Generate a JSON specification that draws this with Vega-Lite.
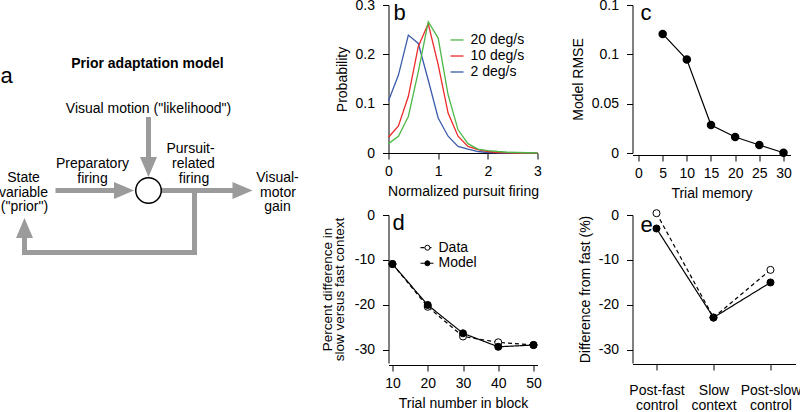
{
  "$schema": "https://vega.github.io/schema/vega-lite/v6.json",
  "background": "white",
  "padding": {"top": -2, "left": -1.5, "right": 0, "bottom": 0},
  "autosize": {"type": "pad"},
  "config": {
    "font": "Liberation Sans",
    "view": {"stroke": null},
    "axis": {"grid": false, "domainColor": "#000", "tickColor": "#000", "labelColor": "#000", "titleColor": "#000", "labelFontSize": 14, "titleFontSize": 14, "titleFontWeight": "normal", "tickSize": 6, "labelFlush": false, "labelOverlap": false, "labelFont": "Liberation Sans", "titleFont": "Liberation Sans"},
    "text": {"font": "Liberation Sans", "color": "#000"}
  },
  "datasets": {
    "diagramLines": [
      {"x": 148, "y": 119.5, "x2": 148, "y2": 158},
      {"x": 57.5, "y": 190.5, "x2": 114, "y2": 190.5},
      {"x": 161, "y": 190.5, "x2": 233, "y2": 190.5},
      {"x": 194, "y": 190.5, "x2": 194, "y2": 252.5},
      {"x": 194, "y": 252.5, "x2": 24, "y2": 252.5},
      {"x": 24, "y": 252.5, "x2": 24, "y2": 237}
    ],
    "diagramHeads": [
      {"x": 148, "y": 167, "dir": "down"},
      {"x": 123.5, "y": 190.5, "dir": "right"},
      {"x": 242, "y": 190.5, "dir": "right"},
      {"x": 24, "y": 228, "dir": "up"}
    ],
    "diagramText": [
      {"x": 148, "y": 113, "label": "Visual motion (\"likelihood\")"},
      {"x": 23, "y": 182, "label": "State"},
      {"x": 23, "y": 196.5, "label": "variable"},
      {"x": 24, "y": 210.5, "label": "(\"prior\")"},
      {"x": 92, "y": 168, "label": "Preparatory"},
      {"x": 92, "y": 183, "label": "firing"},
      {"x": 190, "y": 153, "label": "Pursuit-"},
      {"x": 193, "y": 168, "label": "related"},
      {"x": 193.5, "y": 183, "label": "firing"},
      {"x": 277, "y": 182, "label": "Visual-"},
      {"x": 277.5, "y": 196.5, "label": "motor"},
      {"x": 277, "y": 210.5, "label": "gain"}
    ],
    "dist": [
      {"speed": "2 deg/s", "firing": 0, "prob": 0.106},
      {"speed": "2 deg/s", "firing": 0.2, "prob": 0.158},
      {"speed": "2 deg/s", "firing": 0.4, "prob": 0.239},
      {"speed": "2 deg/s", "firing": 0.6, "prob": 0.222},
      {"speed": "2 deg/s", "firing": 0.8, "prob": 0.148},
      {"speed": "2 deg/s", "firing": 1.0, "prob": 0.071},
      {"speed": "2 deg/s", "firing": 1.2, "prob": 0.034},
      {"speed": "2 deg/s", "firing": 1.4, "prob": 0.0135},
      {"speed": "2 deg/s", "firing": 1.6, "prob": 0.008},
      {"speed": "2 deg/s", "firing": 1.8, "prob": 0.003},
      {"speed": "2 deg/s", "firing": 2.0, "prob": 0.001},
      {"speed": "2 deg/s", "firing": 2.2, "prob": 0.0005},
      {"speed": "2 deg/s", "firing": 2.4, "prob": 0},
      {"speed": "2 deg/s", "firing": 2.6, "prob": 0},
      {"speed": "2 deg/s", "firing": 2.8, "prob": 0},
      {"speed": "2 deg/s", "firing": 3.0, "prob": 0},
      {"speed": "10 deg/s", "firing": 0, "prob": 0.032},
      {"speed": "10 deg/s", "firing": 0.2, "prob": 0.055},
      {"speed": "10 deg/s", "firing": 0.4, "prob": 0.115},
      {"speed": "10 deg/s", "firing": 0.6, "prob": 0.216},
      {"speed": "10 deg/s", "firing": 0.8, "prob": 0.262},
      {"speed": "10 deg/s", "firing": 1.0, "prob": 0.179},
      {"speed": "10 deg/s", "firing": 1.2, "prob": 0.081},
      {"speed": "10 deg/s", "firing": 1.4, "prob": 0.034},
      {"speed": "10 deg/s", "firing": 1.6, "prob": 0.0135},
      {"speed": "10 deg/s", "firing": 1.8, "prob": 0.007},
      {"speed": "10 deg/s", "firing": 2.0, "prob": 0.003},
      {"speed": "10 deg/s", "firing": 2.2, "prob": 0.001},
      {"speed": "10 deg/s", "firing": 2.4, "prob": 0.0005},
      {"speed": "10 deg/s", "firing": 2.6, "prob": 0},
      {"speed": "10 deg/s", "firing": 2.8, "prob": 0},
      {"speed": "10 deg/s", "firing": 3.0, "prob": 0},
      {"speed": "20 deg/s", "firing": 0, "prob": 0.019},
      {"speed": "20 deg/s", "firing": 0.2, "prob": 0.034},
      {"speed": "20 deg/s", "firing": 0.4, "prob": 0.074},
      {"speed": "20 deg/s", "firing": 0.6, "prob": 0.165},
      {"speed": "20 deg/s", "firing": 0.8, "prob": 0.266},
      {"speed": "20 deg/s", "firing": 1.0, "prob": 0.233},
      {"speed": "20 deg/s", "firing": 1.2, "prob": 0.118},
      {"speed": "20 deg/s", "firing": 1.4, "prob": 0.047},
      {"speed": "20 deg/s", "firing": 1.6, "prob": 0.019},
      {"speed": "20 deg/s", "firing": 1.8, "prob": 0.008},
      {"speed": "20 deg/s", "firing": 2.0, "prob": 0.005},
      {"speed": "20 deg/s", "firing": 2.2, "prob": 0.003},
      {"speed": "20 deg/s", "firing": 2.4, "prob": 0.0015},
      {"speed": "20 deg/s", "firing": 2.6, "prob": 0.001},
      {"speed": "20 deg/s", "firing": 2.8, "prob": 0.0005},
      {"speed": "20 deg/s", "firing": 3.0, "prob": 0}
    ],
    "distLegendLines": [
      {"speed": "20 deg/s", "firing": 1.248, "firing2": 1.51, "prob": 0.2291},
      {"speed": "10 deg/s", "firing": 1.248, "firing2": 1.51, "prob": 0.1966},
      {"speed": "2 deg/s", "firing": 1.248, "firing2": 1.51, "prob": 0.1642}
    ],
    "distLegendText": [
      {"speed": "20 deg/s", "firing": 1.651, "prob": 0.2291},
      {"speed": "10 deg/s", "firing": 1.651, "prob": 0.1966},
      {"speed": "2 deg/s", "firing": 1.651, "prob": 0.1642}
    ],
    "rmse": [
      {"memory": 5, "rmse": 0.1207},
      {"memory": 10, "rmse": 0.0947},
      {"memory": 15, "rmse": 0.0283},
      {"memory": 20, "rmse": 0.0162},
      {"memory": 25, "rmse": 0.0081},
      {"memory": 30, "rmse": 0.0003}
    ],
    "block": [
      {"series": "Data", "trial": 10, "diff": -10.9},
      {"series": "Data", "trial": 20, "diff": -20.4},
      {"series": "Data", "trial": 30, "diff": -27.0},
      {"series": "Data", "trial": 40, "diff": -28.3},
      {"series": "Data", "trial": 50, "diff": -28.9},
      {"series": "Model", "trial": 10, "diff": -10.9},
      {"series": "Model", "trial": 20, "diff": -20.0},
      {"series": "Model", "trial": 30, "diff": -26.3},
      {"series": "Model", "trial": 40, "diff": -29.3},
      {"series": "Model", "trial": 50, "diff": -28.9}
    ],
    "blockLegendLines": [
      {"series": "Data", "trial": 17.95, "trial2": 21.64, "diff": -7.27},
      {"series": "Model", "trial": 17.95, "trial2": 21.64, "diff": -10.73}
    ],
    "blockLegendPoints": [
      {"series": "Data", "trial": 19.9, "diff": -7.27},
      {"series": "Model", "trial": 19.9, "diff": -10.73}
    ],
    "blockLegendText": [
      {"series": "Data", "trial": 23.05, "diff": -7.27},
      {"series": "Model", "trial": 23.05, "diff": -10.73}
    ],
    "context": [
      {"series": "Data", "cond": 0, "diff": 0.4},
      {"series": "Data", "cond": 1, "diff": -22.8},
      {"series": "Data", "cond": 2, "diff": -12.2},
      {"series": "Model", "cond": 0, "diff": -3.0},
      {"series": "Model", "cond": 1, "diff": -22.8},
      {"series": "Model", "cond": 2, "diff": -15.0}
    ]
  },
  "columns": 3,
  "spacing": {"row": 62, "column": 95},
  "bounds": "flush",
  "concat": [
    {
      "width": 293,
      "height": 148,
      "encoding": {
        "x": {"field": "x", "type": "quantitative", "scale": {"domain": [0, 293], "nice": false, "zero": false}, "axis": null},
        "y": {"field": "y", "type": "quantitative", "scale": {"domain": [5, 153], "reverse": true, "nice": false, "zero": false}, "axis": null}
      },
      "layer": [
        {
          "data": {"name": "diagramLines"},
          "mark": {"type": "rule", "color": "#9b9b9b", "strokeWidth": 5, "strokeCap": "square"},
          "encoding": {"x2": {"field": "x2"}, "y2": {"field": "y2"}}
        },
        {
          "data": {"name": "diagramHeads"},
          "mark": {"type": "point", "filled": true, "color": "#9b9b9b", "opacity": 1, "size": 400},
          "encoding": {
            "shape": {"field": "dir", "type": "nominal", "scale": {"domain": ["down", "right", "up"], "range": ["M-0.85,-1L0.85,-1L0,1Z", "M-1,-0.85L-1,0.85L1,0Z", "M-0.85,1L0.85,1L0,-1Z"]}, "legend": null}
          }
        },
        {
          "data": {"values": [{"x": 148, "y": 190.5}]},
          "mark": {"type": "point", "shape": "circle", "filled": true, "fill": "white", "stroke": "black", "strokeWidth": 1.5, "size": 650, "opacity": 1}
        },
        {
          "data": {"name": "diagramText"},
          "mark": {"type": "text", "fontSize": 14, "baseline": "alphabetic", "align": "center"},
          "encoding": {"text": {"field": "label"}}
        },
        {
          "data": {"values": [{"x": 147, "y": 68, "label": "Prior adaptation model"}]},
          "mark": {"type": "text", "fontSize": 14, "fontWeight": "bold", "baseline": "alphabetic", "align": "center"},
          "encoding": {"text": {"field": "label"}}
        },
        {
          "data": {"values": [{"x": 0, "y": 83, "label": "a"}]},
          "mark": {"type": "text", "fontSize": 22, "baseline": "alphabetic", "align": "left"},
          "encoding": {"text": {"field": "label"}}
        }
      ]
    },
    {
      "width": 149,
      "height": 148,
      "encoding": {
        "x": {"field": "firing", "type": "quantitative", "scale": {"domain": [0, 3], "nice": false, "zero": false}, "axis": {"values": [0, 1, 2, 3], "title": "Normalized pursuit firing", "labelPadding": 5, "titlePadding": 6}},
        "y": {"field": "prob", "type": "quantitative", "scale": {"domain": [0, 0.3], "nice": false, "zero": false}, "axis": {"values": [0, 0.1, 0.2, 0.3], "format": "~g", "title": "Probability", "labelPadding": 8, "titlePadding": 6}}
      },
      "layer": [
        {
          "data": {"name": "dist"},
          "mark": {"type": "line", "strokeWidth": 1.3},
          "encoding": {"color": {"field": "speed", "type": "nominal", "scale": {"domain": ["20 deg/s", "10 deg/s", "2 deg/s"], "range": ["#4db848", "#ee2b2b", "#3b5ba9"]}, "legend": null}}
        },
        {
          "data": {"name": "distLegendLines"},
          "mark": {"type": "rule", "strokeWidth": 1.3},
          "encoding": {"x2": {"field": "firing2"}, "color": {"field": "speed", "type": "nominal", "legend": null}}
        },
        {
          "data": {"name": "distLegendText"},
          "mark": {"type": "text", "fontSize": 14, "align": "left", "baseline": "middle"},
          "encoding": {"text": {"field": "speed"}}
        },
        {
          "data": {"values": [{"firing": 0.1, "prob": 0.2696, "t": "b"}]},
          "mark": {"type": "text", "fontSize": 22, "align": "left", "baseline": "alphabetic"},
          "encoding": {"text": {"field": "t"}}
        }
      ]
    },
    {
      "width": 158,
      "height": 148,
      "encoding": {
        "x": {"field": "memory", "type": "quantitative", "scale": {"domain": [-1.241, 31.45], "nice": false, "zero": false}, "axis": {"values": [0, 5, 10, 15, 20, 25, 30], "title": "Trial memory", "offset": 2, "labelPadding": 5, "titlePadding": 6}},
        "y": {"field": "rmse", "type": "quantitative", "scale": {"domain": [0, 0.15], "nice": false, "zero": false}, "axis": {"values": [0, 0.05, 0.1, 0.15], "format": "~g", "title": "Model RMSE", "labelPadding": 8, "titlePadding": 6}}
      },
      "layer": [
        {
          "data": {"name": "rmse"},
          "mark": {"type": "line", "color": "black", "strokeWidth": 1.2, "point": {"filled": true, "color": "black", "size": 72, "opacity": 1}}
        },
        {
          "data": {"values": [{"memory": 0.41, "rmse": 0.1348, "t": "c"}]},
          "mark": {"type": "text", "fontSize": 22, "align": "left", "baseline": "alphabetic"},
          "encoding": {"text": {"field": "t"}}
        }
      ]
    },
    {
      "width": 293,
      "height": 148,
      "data": {"values": [{"t": ""}]},
      "mark": {"type": "text"},
      "encoding": {"text": {"field": "t"}}
    },
    {
      "width": 149,
      "height": 148,
      "encoding": {
        "x": {"field": "trial", "type": "quantitative", "scale": {"domain": [8.87, 51.13], "nice": false, "zero": false}, "axis": {"values": [10, 20, 30, 40, 50], "title": "Trial number in block", "offset": 2, "labelPadding": 5, "titlePadding": 6}},
        "y": {"field": "diff", "type": "quantitative", "scale": {"domain": [-32.9, 0], "nice": false, "zero": false}, "axis": {"values": [0, -10, -20, -30], "labelExpr": "'' + datum.value", "title": ["Percent difference in", "slow versus fast context"], "titleFontSize": 13.5, "titleLineHeight": 12, "labelPadding": 8, "titlePadding": 8}}
      },
      "layer": [
        {
          "data": {"name": "block"},
          "mark": {"type": "line", "color": "black", "strokeWidth": 1.2},
          "encoding": {"strokeDash": {"field": "series", "type": "nominal", "scale": {"domain": ["Data", "Model"], "range": [[4, 3], [1, 0]]}, "legend": null}}
        },
        {
          "data": {"name": "block"},
          "mark": {"type": "point", "shape": "circle", "filled": true, "stroke": "black", "strokeWidth": 1, "size": 50, "opacity": 1},
          "encoding": {"fill": {"field": "series", "type": "nominal", "scale": {"domain": ["Data", "Model"], "range": ["white", "black"]}, "legend": null}}
        },
        {
          "data": {"name": "blockLegendLines"},
          "mark": {"type": "rule", "color": "black", "strokeWidth": 1.2},
          "encoding": {"x2": {"field": "trial2"}, "strokeDash": {"field": "series", "type": "nominal", "legend": null}}
        },
        {
          "data": {"name": "blockLegendPoints"},
          "mark": {"type": "point", "shape": "circle", "filled": true, "stroke": "black", "strokeWidth": 1, "size": 25, "opacity": 1},
          "encoding": {"fill": {"field": "series", "type": "nominal", "legend": null}}
        },
        {
          "data": {"name": "blockLegendText"},
          "mark": {"type": "text", "fontSize": 14, "align": "left", "baseline": "middle"},
          "encoding": {"text": {"field": "series"}}
        },
        {
          "data": {"values": [{"trial": 10.0, "diff": -3.33, "t": "d"}]},
          "mark": {"type": "text", "fontSize": 22, "align": "left", "baseline": "alphabetic"},
          "encoding": {"text": {"field": "t"}}
        }
      ]
    },
    {
      "width": 163,
      "height": 148,
      "encoding": {
        "x": {"field": "cond", "type": "quantitative", "scale": {"domain": [-0.421, 2.439], "nice": false, "zero": false}, "axis": {"values": [0, 1, 2], "labelExpr": "datum.value == 0 ? ['Post-fast', 'control'] : datum.value == 1 ? ['Slow', 'context'] : ['Post-slow', 'control']", "labelLineHeight": 15, "labelPadding": 13, "offset": 1, "title": null}},
        "y": {"field": "diff", "type": "quantitative", "scale": {"domain": [-32.9, 0], "nice": false, "zero": false}, "axis": {"values": [0, -10, -20, -30], "labelExpr": "'' + datum.value", "title": "Difference from fast (%)", "labelPadding": 8, "titlePadding": 6}}
      },
      "layer": [
        {
          "data": {"name": "context"},
          "mark": {"type": "line", "color": "black", "strokeWidth": 1.2},
          "encoding": {"strokeDash": {"field": "series", "type": "nominal", "scale": {"domain": ["Data", "Model"], "range": [[4, 3], [1, 0]]}, "legend": null}}
        },
        {
          "data": {"name": "context"},
          "mark": {"type": "point", "shape": "circle", "filled": true, "stroke": "black", "strokeWidth": 1, "size": 50, "opacity": 1},
          "encoding": {"fill": {"field": "series", "type": "nominal", "scale": {"domain": ["Data", "Model"], "range": ["white", "black"]}, "legend": null}}
        },
        {
          "data": {"values": [{"cond": -0.281, "diff": -3.78, "t": "e"}]},
          "mark": {"type": "text", "fontSize": 22, "align": "left", "baseline": "alphabetic"},
          "encoding": {"text": {"field": "t"}}
        }
      ]
    }
  ]
}
